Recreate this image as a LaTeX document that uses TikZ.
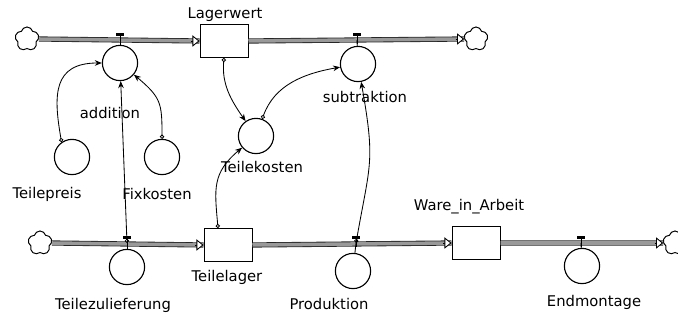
\documentclass[tikz,border=0pt]{standalone}
\usepackage{fontspec}
\setmainfont{DejaVu Sans}
\usetikzlibrary{arrows.meta,shapes.symbols}

\begin{document}
\begin{tikzpicture}[x=0.025cm, y=0.025cm, >=Stealth,
    font=\fontsize{10.5}{12}\selectfont,
    aux/.style={circle, draw, line width=0.8pt, minimum size=0.88cm, inner sep=0pt},
    stock/.style={rectangle, draw, line width=0.7pt, fill=white, minimum width=1.2cm, minimum height=0.82cm},
    sink/.style={cloud, cloud puffs=5, cloud ignores aspect, draw, line width=0.7pt, minimum width=0.6cm, minimum height=0.6cm, inner sep=0pt},
    pipe/.style={draw=black!85, line width=0.6pt, double=black!40, double distance=2.5pt},
    pipetip/.style={-{Triangle[length=5pt, width=8pt, fill=white, line width=0.6pt]}},
    link/.style={{Circle[open, length=3pt]}-{Stealth[length=5pt, width=4pt]}, line width=0.6pt},
    valve/.pic={\draw[line width=0.6pt] (0,-4) -- (0,5); \fill (-4,4) rectangle (4,7);}]
  \useasboundingbox (0,0) rectangle (678,320);
  % stocks and clouds
  \node[stock] (lagerwert) at (224,279) {};
  \node[stock] (teilelager) at (228,75) {};
  \node[stock] (ware) at (476,77) {};
  \node[sink] (cloudtl) at (27,281) {};
  \node[sink] (cloudtr) at (476,281) {};
  \node[sink] (cloudbl) at (40,77) {};
  \node[sink] (cloudbr) at (675,77) {};
  % pipes
  \draw[pipe] (cloudtl.east) -- (lagerwert.west);
  \draw[pipe] (lagerwert.east) -- (cloudtr.west);
  \draw[pipe] (cloudbl.east) -- (teilelager.west);
  \draw[pipe] (teilelager.east) -- (ware.west);
  \draw[pipe] (ware.east) -- (cloudbr.west);
  \draw[pipetip] ([xshift=-6pt]lagerwert.west) -- (lagerwert.west);
  \draw[pipetip] ([xshift=-6pt]cloudtr.west) -- (cloudtr.west);
  \draw[pipetip] ([xshift=-6pt]teilelager.west) -- (teilelager.west);
  \draw[pipetip] ([xshift=-6pt]ware.west) -- (ware.west);
  \draw[pipetip] ([xshift=-6pt]cloudbr.west) -- (cloudbr.west);
  % valves
  \coordinate (vadd) at (120,280);
  \coordinate (vsub) at (357,280);
  \coordinate (vzul) at (127,77);
  \coordinate (vprod) at (356,77);
  \coordinate (vend) at (581,77);
  \foreach \v in {vadd,vsub,vzul,vprod,vend}
    \pic at (\v) {valve};
  % converters
  \node[aux] (addition) at (120,257) {};
  \node[aux] (subtraktion) at (358,256) {};
  \node[aux] (teilepreis) at (72,163) {};
  \node[aux] (fixkosten) at (162,163) {};
  \node[aux] (teilekosten) at (256,184) {};
  \node[aux] (teilezulieferung) at (127,53) {};
  \node[aux] (produktion) at (353,49) {};
  \node[aux] (endmontage) at (582,54) {};
  \draw[line width=0.6pt] (vadd) -- (addition);
  \draw[line width=0.6pt] (vsub) -- (subtraktion);
  \draw[line width=0.6pt] (vzul) -- (teilezulieferung);
  \draw[line width=0.6pt] (vprod) -- (produktion);
  \draw[line width=0.6pt] (vend) -- (endmontage);
  % labels
  \node (lagerwertlbl) at (225,305) {Lagerwert};
  \node (additionlbl) at (110,207) {addition};
  \node (subtraktionlbl) at (365,223) {subtraktion};
  \node (teilepreislbl) at (47,126) {Teilepreis};
  \node (fixkostenlbl) at (157,126) {Fixkosten};
  \node (teilekostenlbl) at (262,153) {Teilekosten};
  \node (teilezulieferunglbl) at (113,15) {Teilezulieferung};
  \node (teilelagerlbl) at (227,43) {Teilelager};
  \node (produktionlbl) at (329,16) {Produktion};
  \node (warelbl) at (469,113) {Ware\_in\_Arbeit};
  \node (endmontagelbl) at (594,18) {Endmontage};
  % connectors
  \draw[link] (teilepreis.125) to[out=100, in=180, looseness=1.4] (addition);
  \draw[link] (fixkosten) to[out=90, in=-40, looseness=1.3] (addition);
  \draw[link] (vzul) -- (addition);
  \draw[link] (lagerwert.south) to[out=-95, in=125] (teilekosten);
  \draw[link] (teilekosten) to[out=70, in=190] (subtraktion);
  \draw[link] ([xshift=-0.25cm]teilelager.north) to[out=95, in=220, looseness=1.2] (teilekosten);
  \draw[link] (vprod) to[out=80, in=-80, looseness=1.3] (subtraktion);
\end{tikzpicture}
\end{document}
